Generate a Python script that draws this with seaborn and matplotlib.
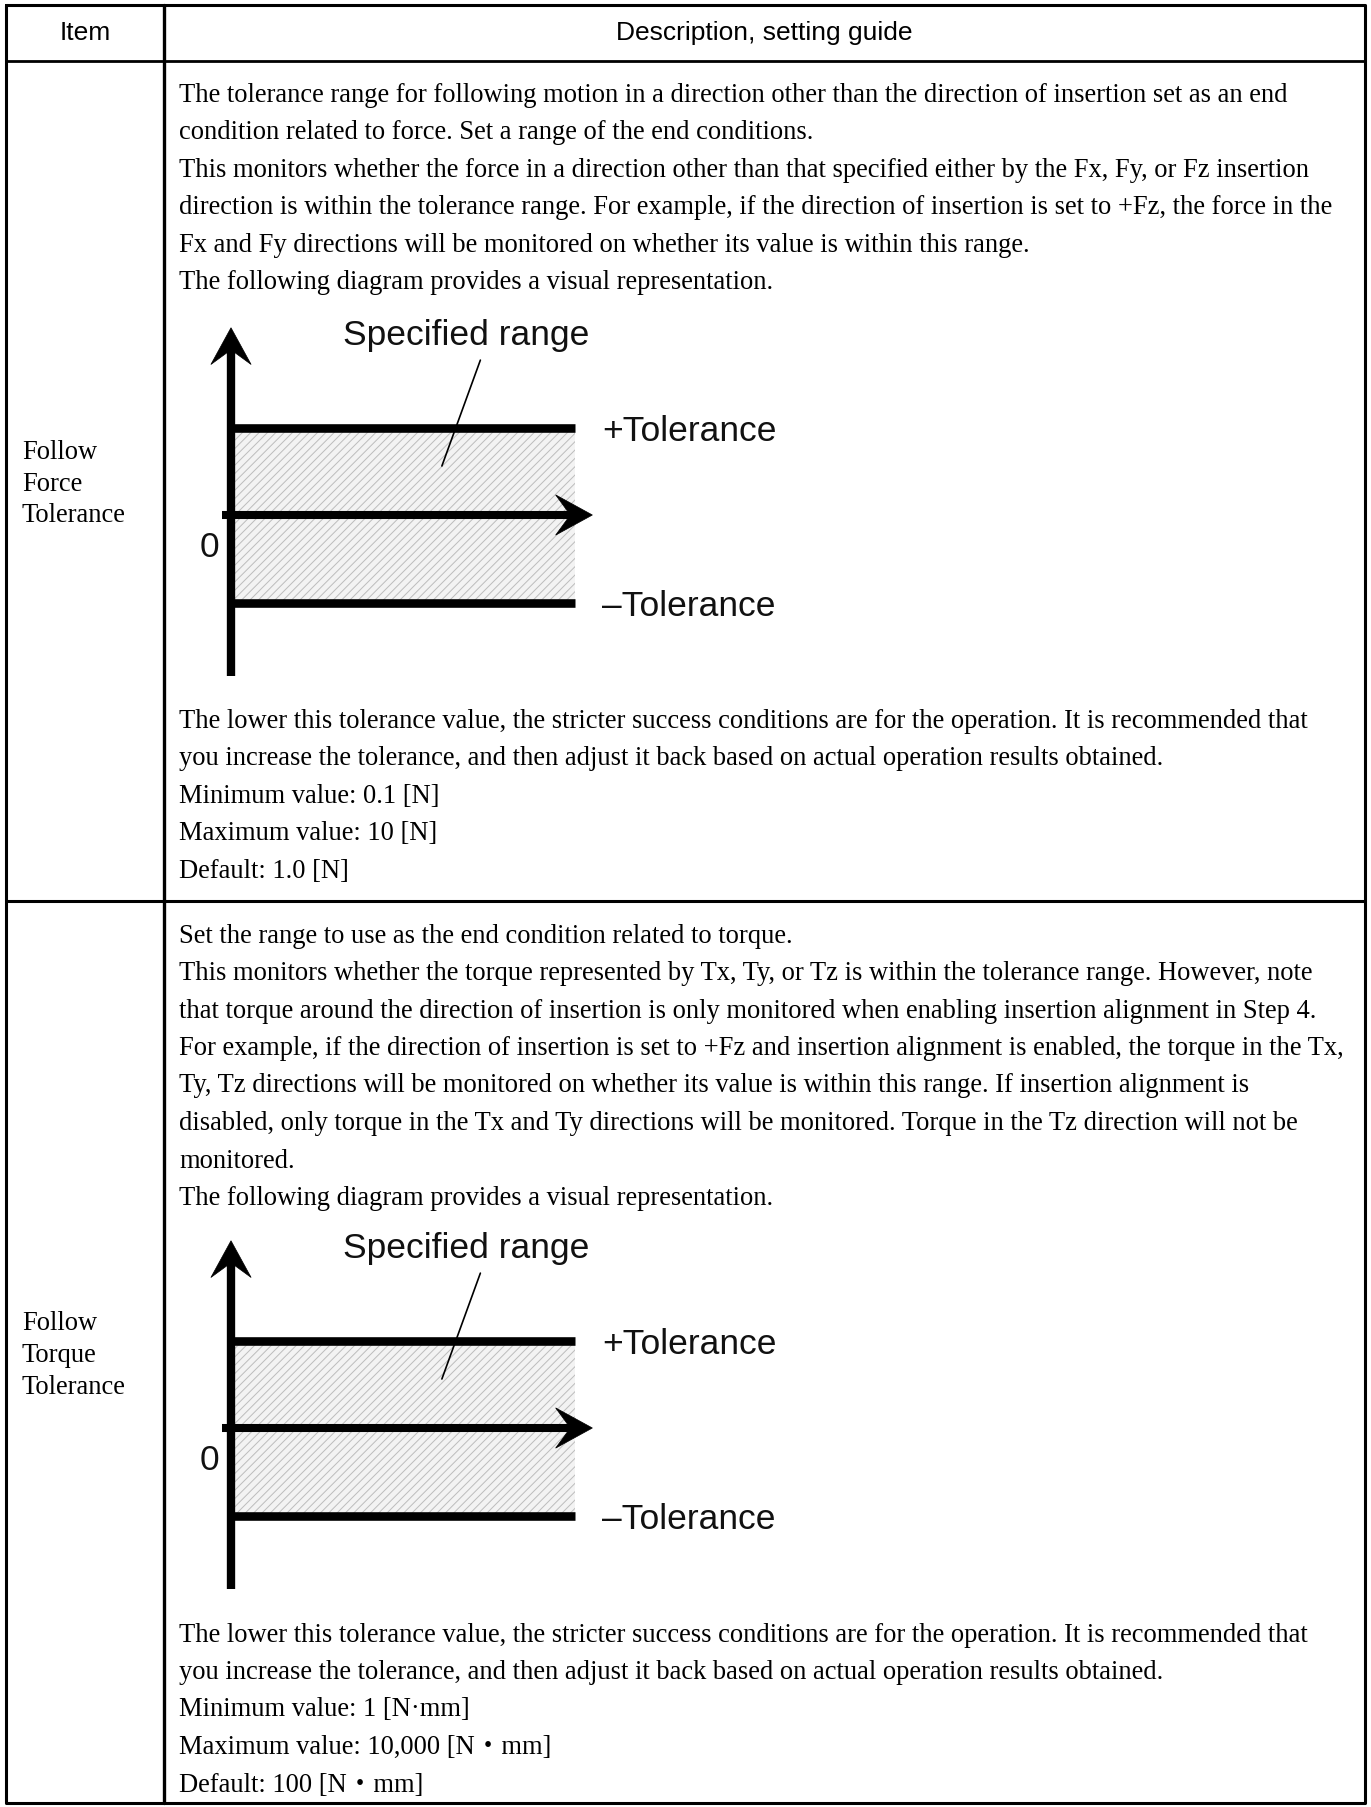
import pandas as pd
import seaborn as sns
import matplotlib.pyplot as plt
from matplotlib.patches import Polygon

sns.set_theme(style='white')
plt.rcParams['hatch.linewidth'] = 0.7

# 표 내용
header = ['Item', 'Description, setting guide']
items = [['Follow', 'Force', 'Tolerance'], ['Follow', 'Torque', 'Tolerance']]

force_before = [
    'The tolerance range for following motion in a direction other than the direction of insertion set as an end',
    'condition related to force. Set a range of the end conditions.',
    'This monitors whether the force in a direction other than that specified either by the Fx, Fy, or Fz insertion',
    'direction is within the tolerance range. For example, if the direction of insertion is set to +Fz, the force in the',
    'Fx and Fy directions will be monitored on whether its value is within this range.',
    'The following diagram provides a visual representation.',
]
force_after = [
    'The lower this tolerance value, the stricter success conditions are for the operation. It is recommended that',
    'you increase the tolerance, and then adjust it back based on actual operation results obtained.',
    'Minimum value: 0.1 [N]',
    'Maximum value: 10 [N]',
    'Default: 1.0 [N]',
]
torque_before = [
    'Set the range to use as the end condition related to torque.',
    'This monitors whether the torque represented by Tx, Ty, or Tz is within the tolerance range. However, note',
    'that torque around the direction of insertion is only monitored when enabling insertion alignment in Step 4.',
    'For example, if the direction of insertion is set to +Fz and insertion alignment is enabled, the torque in the Tx,',
    'Ty, Tz directions will be monitored on whether its value is within this range. If insertion alignment is',
    'disabled, only torque in the Tx and Ty directions will be monitored. Torque in the Tz direction will not be',
    'monitored.',
    'The following diagram provides a visual representation.',
]
torque_after = [
    'The lower this tolerance value, the stricter success conditions are for the operation. It is recommended that',
    'you increase the tolerance, and then adjust it back based on actual operation results obtained.',
    'Minimum value: 1 [N\u00b7mm]',
    'Maximum value: 10,000 [N\u30fbmm]',
    'Default: 100 [N\u30fbmm]',
]

# 다이어그램 값 (허용오차 단위)
tol_levels = [1.0, -1.0]
tol_labels = ['+Tolerance', '\u2013Tolerance']
range_label = 'Specified range'
zero_label = '0'

SERIF = ['Liberation Serif', 'Noto Sans CJK JP', 'DejaVu Sans']
SANS = ['Liberation Sans', 'DejaVu Sans']

W, H = 1371, 1807
fig = plt.figure(figsize=(W / 100, H / 100), dpi=100)
ax = fig.add_axes([0, 0, 1, 1])
ax.set_xlim(0, W)
ax.set_ylim(H, 0)
ax.axis('off')

# 표 격자
left, right, top, bottom = 6, 1365, 5, 1803
col = 164
head_b = 61
row_b = 901
LW = 2.2
ax.plot([left, right, right, left, left], [top, top, bottom, bottom, top], color='black', lw=LW)
ax.plot([col, col], [top, bottom], color='black', lw=LW + 0.2)
ax.plot([left, right], [head_b, head_b], color='black', lw=LW - 0.2)
ax.plot([left, right], [row_b, row_b], color='black', lw=LW)

ax.text((left + col) / 2, 33, header[0], ha='center', va='center', fontsize=19, family=SANS, color='black')
ax.text((col + right) / 2, 33, header[1], ha='center', va='center', fontsize=19, family=SANS, color='black')

FS = 19.1
LS = 37.5
TX = 179


def write_lines(lines, y0):
    for i, s in enumerate(lines):
        ax.text(TX, y0 + i * LS, s, ha='left', va='center_baseline', fontsize=FS,
                family=SERIF, color='black')


def write_label(lines, yc):
    n = len(lines)
    for i, s in enumerate(lines):
        ax.text(22, yc + (i - (n - 1) / 2) * 32, s, ha='left', va='center_baseline',
                fontsize=FS, family=SERIF, color='black')


def arrow_head(dax, tip, direction, L=0.42, Wd=0.46):
    tx, ty = tip
    dx, dy = direction
    px, py = -dy, dx
    pts = [
        (tx, ty),
        (tx - L * dx + Wd / 2 * px, ty - L * dy + Wd / 2 * py),
        (tx - 0.6 * L * dx, ty - 0.6 * L * dy),
        (tx - L * dx - Wd / 2 * px, ty - L * dy - Wd / 2 * py),
    ]
    dax.add_patch(Polygon(pts, closed=True, facecolor='black', edgecolor='black', lw=0.5))


def draw_diagram(axis_y):
    u = 87.5
    x0 = 231
    xmin, xmax = -0.6, 6.6
    ymin, ymax = -2.0, 2.5
    l = x0 + xmin * u
    r = x0 + xmax * u
    t = axis_y - ymax * u
    b = axis_y - ymin * u
    dax = fig.add_axes([l / W, 1 - b / H, (r - l) / W, (b - t) / H])
    dax.set_xlim(xmin, xmax)
    dax.set_ylim(ymin, ymax)
    dax.axis('off')

    x_end = 3.93
    dax.fill_between([0, x_end], min(tol_levels), max(tol_levels), facecolor='#f3f3f3',
                     hatch='////', edgecolor='#bcbcbc', linewidth=0)

    df = pd.DataFrame({
        'x': [0, x_end, 0, x_end],
        'y': [tol_levels[0], tol_levels[0], tol_levels[1], tol_levels[1]],
        'level': ['upper', 'upper', 'lower', 'lower'],
    })
    sns.lineplot(data=df, x='x', y='y', hue='level', palette=['black', 'black'],
                 linewidth=6.2, legend=False, ax=dax, estimator=None, sort=False)
    for line in dax.get_lines():
        line.set_solid_capstyle('butt')

    # 축
    dax.plot([-0.1, 3.95], [0, 0], color='black', lw=5.8, solid_capstyle='butt')
    arrow_head(dax, (4.13, 0), (1, 0))
    dax.plot([0, 0], [-1.84, 1.95], color='black', lw=6.0, solid_capstyle='butt')
    arrow_head(dax, (0, 2.14), (0, 1))

    for lev, lab in zip(tol_levels, tol_labels):
        dax.text(4.24, lev - 0.05, lab, ha='left', va='center', fontsize=25.5,
                 family=SANS, color='#111111')
    dax.text(-0.25, -0.37, zero_label, ha='center', va='center', fontsize=25.5,
             family=SANS, color='#111111')
    dax.text(1.28, 2.05, range_label, ha='left', va='center', fontsize=25.5,
             family=SANS, color='#111111')
    dax.plot([2.85, 2.41], [1.77, 0.56], color='black', lw=1.2)


# 1행
write_label(items[0], (head_b + row_b) / 2)
write_lines(force_before, 92)
draw_diagram(515)
write_lines(force_after, 718)

# 2행
write_label(items[1], (row_b + bottom) / 2)
write_lines(torque_before, 933)
draw_diagram(515 + 913)
write_lines(torque_after, 1632)

fig.savefig('out.png', dpi=100, facecolor='white')
